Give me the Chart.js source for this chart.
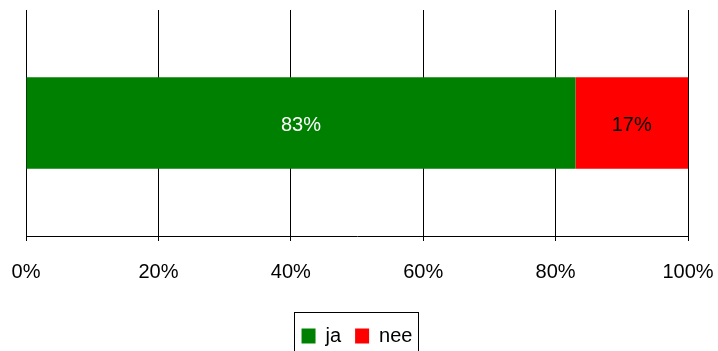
<!DOCTYPE html>
<html>
<head>
<meta charset="utf-8">
<script src="https://cdn.jsdelivr.net/npm/chart.js@4/dist/chart.umd.min.js"></script>
<style>
  html, body { margin: 0; padding: 0; background: #fff; }
  #wrap { width: 718px; height: 351px; }
</style>
</head>
<body>
<div id="wrap"><canvas id="myChart" width="718" height="351"></canvas></div>
<script>
var categories = [''];
var jaValues = [83];
var neeValues = [17];
var tickValues = [0, 20, 40, 60, 80, 100];

var FONT = '"Liberation Sans", Arial, sans-serif';

// value labels in the middle of each bar segment
var barLabels = {
  id: 'barLabels',
  afterDatasetsDraw: function(chart) {
    var ctx = chart.ctx;
    ctx.save();
    ctx.font = '20px ' + FONT;
    ctx.textAlign = 'center';
    ctx.textBaseline = 'middle';
    chart.data.datasets.forEach(function(ds, i) {
      chart.getDatasetMeta(i).data.forEach(function(bar, j) {
        var p = bar.getProps(['x', 'y', 'base'], true);
        ctx.fillStyle = ds.labelColor;
        ctx.fillText(ds.data[j] + '%', (p.x + p.base) / 2, p.y + 2);
      });
    });
    ctx.restore();
  }
};

// thin frame round the legend
var legendFrame = {
  id: 'legendFrame',
  afterDraw: function(chart) {
    var hit = chart.legend.legendHitBoxes;
    if (!hit || !hit.length) return;
    var last = hit[hit.length - 1];
    var left = Math.round(hit[0].left - 8);
    var right = Math.round(last.left + last.width + 6);
    var mid = hit[0].top + hit[0].height / 2;
    var ctx = chart.ctx;
    ctx.save();
    ctx.strokeStyle = '#000';
    ctx.lineWidth = 1;
    ctx.strokeRect(left + 0.5, Math.round(mid - 24) + 0.5, right - left, 60);
    ctx.restore();
  }
};

var ctx = document.getElementById('myChart').getContext('2d');
var myChart = new Chart(ctx, {
  type: 'bar',
  data: {
    labels: categories,
    datasets: [{
      label: 'ja',
      data: jaValues,
      backgroundColor: '#008000',
      labelColor: '#ffffff',
      barPercentage: 0.405,
      categoryPercentage: 1
    }, {
      label: 'nee',
      data: neeValues,
      backgroundColor: '#ff0000',
      labelColor: '#000000',
      barPercentage: 0.405,
      categoryPercentage: 1
    }]
  },
  options: {
    indexAxis: 'y',
    responsive: false,
    animation: false,
    layout: {
      padding: { top: 10, left: 26, right: 30, bottom: -5 }
    },
    scales: {
      x: {
        stacked: true,
        min: 0,
        max: 100,
        afterBuildTicks: function(axis) {
          axis.ticks = tickValues.map(function(v) { return { value: v }; });
        },
        afterFit: function(axis) {
          axis.paddingLeft = 0;
          axis.paddingRight = 0;
          axis.height += 9;
        },
        grid: {
          color: '#000',
          lineWidth: 1,
          drawTicks: true,
          tickLength: 5,
          tickColor: '#000'
        },
        border: { display: true, color: '#000' },
        ticks: {
          color: '#000',
          padding: 19,
          maxRotation: 0,
          font: { family: FONT, size: 20 },
          callback: function(v) { return v + '%'; }
        }
      },
      y: {
        stacked: true,
        display: false
      }
    },
    plugins: {
      tooltip: { enabled: false },
      legend: {
        position: 'bottom',
        labels: {
          color: '#000',
          boxWidth: 14,
          boxHeight: 15,
          padding: 14,
          font: { family: FONT, size: 20 }
        }
      }
    }
  },
  plugins: [barLabels, legendFrame]
});
</script>
</body>
</html>
